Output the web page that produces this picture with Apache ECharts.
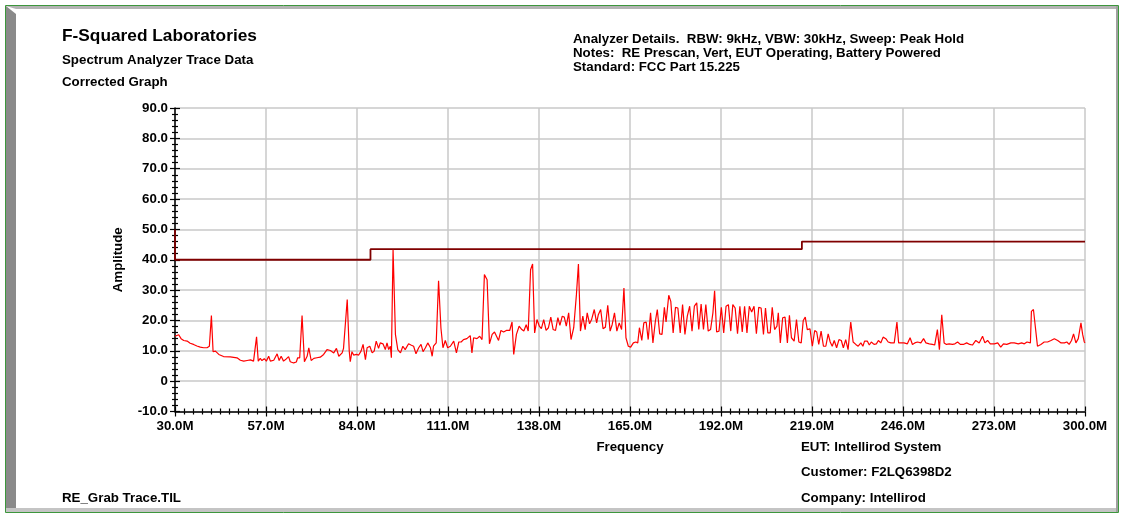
<!DOCTYPE html>
<html><head><meta charset="utf-8">
<script src="https://cdn.jsdelivr.net/npm/echarts@6/dist/echarts.min.js"></script>
<style>html,body{margin:0;padding:0;background:#fff}#c{width:1126px;height:515px}</style>
</head><body><div id="c"></div>
<script>
// ---- tick labels ----
const xTickLabels = ['30.0M','57.0M','84.0M','111.0M','138.0M','165.0M','192.0M','219.0M','246.0M','273.0M','300.0M'];
const yTickLabels = ['-10.0','0','10.0','20.0','30.0','40.0','50.0','60.0','70.0','80.0','90.0'];

// ---- trace data (MHz, dB) ----
const freqLow = [
30.0,31.1,31.8,32.6,33.6,34.5,35.5,36.5,37.5,38.5,
39.5,40.0,40.2,40.8,41.3,42.0,43.0,44.4,46.4,48.4,
49.4,50.4,51.4,52.4,53.3,53.7,54.2,54.7,55.3,55.8,
56.5,57.1,57.8,58.3,59.3,60.3,60.9,61.5,62.2,62.8,
63.7,64.2,65.2,66.0,66.4,67.0,67.7,68.4,69.2,69.7,
70.4,71.2,72.1,73.1,74.1,75.1,76.1,77.1,77.9,78.6,
79.6,80.0,80.5,81.1,81.7,82.0,82.5,83.0,83.8,84.5,
85.2,85.8,86.5,87.0,87.8,88.5,89.1,89.7,90.4,90.9,
91.7,92.4,92.9,93.4,93.9,94.2,94.7,95.4,96.1,96.9,
97.6,98.3,99.3,100.0,100.8,101.5,102.3,103.0,103.6,104.3,
105.0,105.8,106.3,106.7,107.5,108.2,108.9,109.5,110.2,110.9,
111.7,112.7,113.5,114.2,114.9,115.6,116.6,117.6,118.1,118.6,
119.6,120.4];
const ampLow = [
14.8,15.3,14.0,13.4,13.2,12.5,12.1,11.6,11.2,11.0,
11.0,10.6,11.5,21.6,9.7,9.9,8.8,8.1,8.0,7.7,
6.9,6.6,6.8,7.0,6.6,6.6,14.6,6.6,7.5,6.8,
7.4,6.6,8.2,6.6,6.9,9.0,6.8,8.2,6.6,7.1,
8.1,6.4,6.0,6.3,7.7,7.7,21.6,6.4,8.2,11.0,
6.8,7.5,7.7,7.9,8.8,10.4,10.1,9.3,10.8,8.2,
9.3,10.8,10.4,26.9,9.9,6.4,9.7,8.6,8.8,8.6,
9.9,12.1,7.1,11.0,11.5,9.3,9.9,13.2,10.8,12.6,
12.3,10.4,12.6,10.4,11.5,7.7,43.3,15.4,10.4,9.3,
11.5,10.4,12.3,11.9,11.5,9.0,11.0,12.1,9.7,11.0,
12.6,11.0,8.2,11.5,12.6,33.1,17.5,11.0,13.4,11.0,
11.5,13.2,9.3,12.9,12.9,13.7,14.0,15.0,9.3,14.3,
14.0,14.8];

const freqMid = [
121.1,121.8,122.6,123.3,124.1,124.8,125.4,126.0,126.7,127.5,
128.3,129.3,130.0,130.5,131.3,132.1,132.9,133.5,134.2,134.8,
135.5,136.1,136.7,137.4,138.1,138.7,139.4,140.1,140.8,141.5,
142.2,142.9,143.6,144.2,144.9,145.5,146.1,146.8,147.5,148.3,
149.1,149.7,150.3,151.0,151.7,152.3,153.0,153.6,154.4,155.1,
155.6,156.3,157.0,157.7,158.4,159.1,159.7,160.4,161.1,161.8,
162.5,163.2,163.8,164.5,165.2,166.0,166.7,167.3,167.8,168.5,
169.1,169.8,170.4,171.1,171.8,172.5,173.1,173.8,174.5,175.2,
175.7,176.5,177.1,177.8,178.5,179.2,179.9,180.6,181.3,182.0,
182.7,183.4,184.1,184.8,185.4,186.1,186.8,187.5,188.2,188.9,
189.6,190.1,190.7,191.4,192.1,192.8,193.5,194.2,194.9,195.5,
196.2,196.9,197.6,198.3,199.0,199.7,200.4,201.1,201.8,202.5,
203.2,203.9,204.6,205.2,205.9,206.6,207.2,207.9,208.6,209.0,
209.6,210.3,211.0,211.7,212.3];
const ampMid = [
13.7,35.1,33.4,12.3,15.4,16.2,14.8,13.4,16.7,16.2,
16.7,16.7,19.5,8.8,15.4,18.1,17.0,16.5,18.6,16.5,
36.7,38.6,15.9,20.3,18.1,17.3,20.3,16.7,17.6,21.1,
17.0,16.7,20.9,18.4,21.4,21.1,18.1,22.5,13.7,17.6,
28.5,38.6,16.5,21.4,17.0,22.5,18.9,20.3,23.6,19.2,
21.9,23.6,17.3,17.8,25.0,16.5,18.6,22.5,16.5,19.2,
17.0,30.7,14.3,11.5,11.2,12.6,12.9,12.6,17.6,13.4,
19.2,19.5,13.7,22.5,12.6,19.5,23.6,15.6,15.4,24.3,
19.5,28.3,26.3,15.9,24.3,24.1,15.9,25.2,15.4,21.4,
24.7,16.5,24.7,25.8,17.0,25.4,17.0,25.2,16.5,17.0,
22.5,29.8,16.2,16.5,24.3,15.9,24.7,25.2,16.5,25.2,
24.1,15.6,24.7,16.2,24.7,15.9,24.7,22.8,24.7,15.6,
24.3,24.1,15.4,24.1,15.9,15.9,24.3,17.0,18.1,22.5,
12.6,20.9,21.1,12.6,21.7];

const freqHigh = [
212.9,213.7,214.4,215.1,215.8,216.4,217.0,217.6,218.4,219.1,
219.8,220.4,221.0,221.7,222.4,223.1,223.8,224.4,225.0,225.6,
226.3,227.0,227.7,228.3,229.0,229.7,230.5,231.2,232.0,232.7,
233.5,234.1,234.6,235.4,236.0,236.6,237.4,238.1,238.7,239.4,
240.1,240.9,241.6,242.4,243.4,244.2,244.7,245.5,246.3,247.3,
248.1,248.8,249.5,250.3,251.3,252.1,252.8,253.8,254.7,255.4,
256.2,256.8,257.5,258.2,258.9,259.7,260.7,261.4,262.2,263.0,
263.9,264.9,265.8,266.6,267.6,268.6,269.6,270.3,271.1,271.9,
273.1,274.1,274.5,275.0,275.8,276.8,278.0,279.0,280.2,281.2,
282.0,282.8,283.8,284.1,284.7,285.2,285.9,286.9,287.9,288.9,
289.9,290.9,291.9,292.9,293.9,294.6,295.3,296.0,296.6,297.3,
298.0,298.8,299.3,299.8,300.0];
const ampHigh = [
14.3,13.2,20.3,12.9,12.6,20.0,21.1,17.0,17.2,11.5,
16.7,16.2,12.1,16.5,11.5,11.5,15.6,12.9,11.5,13.4,
11.0,13.7,13.4,11.0,13.7,10.4,19.5,12.9,12.1,11.5,
12.6,11.5,13.2,13.2,11.9,12.9,12.1,12.3,13.4,12.6,
14.5,14.0,12.9,12.6,12.6,19.5,12.6,12.6,12.6,12.3,
14.3,12.1,12.6,12.9,12.6,14.0,12.6,12.3,12.1,11.9,
17.0,10.4,21.9,12.6,12.1,12.3,12.1,12.3,12.9,12.1,
12.1,12.6,12.1,11.9,13.4,12.6,14.8,12.6,13.4,12.3,
12.3,12.6,12.6,11.2,12.3,12.1,12.6,12.6,12.3,12.6,
12.3,12.9,12.6,23.0,23.6,24.1,11.5,12.1,12.9,12.9,
13.4,14.0,13.4,12.6,12.6,12.9,12.1,13.4,15.6,12.6,
14.0,19.2,15.4,12.9,12.6];

// ---- limit line (FCC 15.225) ----
const limitFreq = [30, 30, 88, 88, 216, 216, 300];
const limitAmp  = [50, 40, 40, 43.5, 43.5, 46, 46];

const F0 = 30;      // axis origin (MHz)
const FSTEP = 27;   // major tick step (MHz)
const FONT = '"Liberation Sans", Arial, Helvetica, sans-serif';
const FS = 13.3;

const traceFreq = freqLow.concat(freqMid, freqHigh);
const traceAmp = ampLow.concat(ampMid, ampHigh);
const traceData = traceFreq.map((f, i) => [f - F0, traceAmp[i]]);
const limitData = limitFreq.map((f, i) => [f - F0, limitAmp[i]]);

const chart = echarts.init(document.getElementById('c'), null, {renderer: 'canvas'});

const lbl = {color: '#000', fontWeight: 'bold', fontSize: FS, fontFamily: FONT};
const tickStyle = {color: '#000', width: 1.2};
const gridLine = {color: '#c8c8c8', width: 1.5};

function txt(x, y, text, size) {
  return {type: 'text', x: x, y: y, silent: true,
    style: {text: text, fill: '#000', font: 'bold ' + (size || FS) + 'px ' + FONT, verticalAlign: 'middle', align: 'left'}};
}

chart.setOption({
  animation: false,
  backgroundColor: '#fff',
  grid: {left: 175, right: 41, top: 108, bottom: 103.5, containLabel: false},
  xAxis: [{
    type: 'value', min: 0, max: (xTickLabels.length - 1) * FSTEP, interval: FSTEP, position: 'bottom',
    axisLine: {show: true, onZero: false, lineStyle: {color: '#000', width: 1.5}},
    axisTick: {show: true, inside: false, length: 5, lineStyle: tickStyle},
    minorTick: {show: true, splitNumber: 10, length: 3, lineStyle: tickStyle},
    axisLabel: Object.assign({margin: 8, formatter: v => xTickLabels[Math.round(v / FSTEP)]}, lbl),
    splitLine: {show: true, lineStyle: gridLine},
    name: 'Frequency', nameLocation: 'middle', nameGap: 29,
    nameTextStyle: {color: '#000', fontWeight: 'bold', fontSize: FS, fontFamily: FONT}
  }, {
    type: 'value', min: 0, max: (xTickLabels.length - 1) * FSTEP, interval: FSTEP, position: 'bottom',
    axisLine: {show: false, onZero: false},
    axisTick: {show: true, inside: true, length: 5, lineStyle: tickStyle},
    minorTick: {show: true, splitNumber: 10, length: 3, lineStyle: tickStyle},
    axisLabel: {show: false}, splitLine: {show: false}
  }],
  yAxis: [{
    type: 'value', min: -10, max: 90, interval: 10, position: 'left',
    axisLine: {show: true, onZero: false, lineStyle: {color: '#000', width: 1.5}},
    axisTick: {show: true, inside: false, length: 5, lineStyle: tickStyle},
    minorTick: {show: true, splitNumber: 5, length: 3, lineStyle: tickStyle},
    axisLabel: Object.assign({margin: 7, formatter: v => yTickLabels[Math.round((v + 10) / 10)]}, lbl),
    splitLine: {show: true, lineStyle: gridLine},
    name: 'Amplitude', nameLocation: 'middle', nameGap: 50, nameRotate: 90,
    nameTextStyle: {color: '#000', fontWeight: 'bold', fontSize: FS, fontFamily: FONT}
  }, {
    type: 'value', min: -10, max: 90, interval: 10, position: 'left',
    axisLine: {show: false, onZero: false},
    axisTick: {show: true, inside: true, length: 5, lineStyle: tickStyle},
    minorTick: {show: true, splitNumber: 5, length: 3, lineStyle: tickStyle},
    axisLabel: {show: false}, splitLine: {show: false}
  }],
  series: [{
    type: 'line', name: 'Limit', data: limitData, xAxisIndex: 0, yAxisIndex: 0,
    showSymbol: false, symbol: 'none', z: 3,
    lineStyle: {color: '#800000', width: 1.8}
  }, {
    type: 'line', name: 'Trace', data: traceData, xAxisIndex: 0, yAxisIndex: 0,
    showSymbol: false, symbol: 'none', z: 4,
    lineStyle: {color: '#ff0000', width: 1.2}
  }],
  graphic: [
    {type: 'rect', silent: true, z: 0, shape: {x: 5.5, y: 5.5, width: 1113, height: 507}, style: {fill: 'none', stroke: '#3c963c', lineWidth: 1}},
    {type: 'polygon', silent: true, shape: {points: [[6, 6], [1118, 6], [1118, 9], [16, 9]]}, style: {fill: '#b4b4b4'}},
    {type: 'polygon', silent: true, shape: {points: [[6, 6], [16, 14], [16, 508], [6, 512]]}, style: {fill: '#8a8a8a'}},
    {type: 'rect', silent: true, shape: {x: 6, y: 508, width: 1112, height: 4}, style: {fill: '#c4c4c4'}},
    {type: 'rect', silent: true, shape: {x: 1116, y: 6, width: 2, height: 506}, style: {fill: '#a0a0a0'}},
    txt(62, 36, 'F-Squared Laboratories', 17.3),
    txt(62, 60, 'Spectrum Analyzer Trace Data'),
    txt(62, 82, 'Corrected Graph'),
    txt(573, 39.5, 'Analyzer Details.  RBW: 9kHz, VBW: 30kHz, Sweep: Peak Hold'),
    txt(573, 53.5, 'Notes:  RE Prescan, Vert, EUT Operating, Battery Powered'),
    txt(573, 67.5, 'Standard: FCC Part 15.225'),
    txt(801, 447, 'EUT: Intellirod System'),
    txt(801, 472, 'Customer: F2LQ6398D2'),
    txt(801, 498, 'Company: Intellirod'),
    txt(62, 498, 'RE_Grab Trace.TIL')
  ]
});
</script>
</body></html>
